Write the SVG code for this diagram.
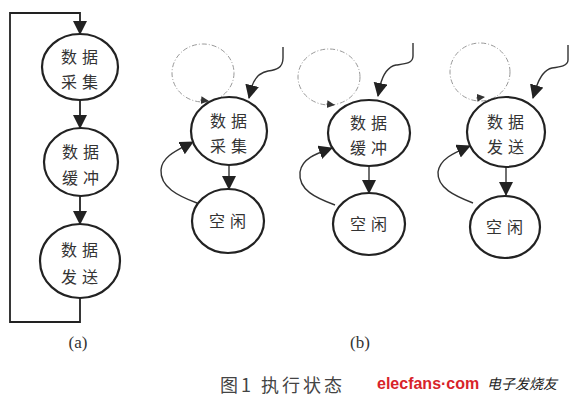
<svg xmlns="http://www.w3.org/2000/svg" width="581" height="401" viewBox="0 0 581 401">
<style>
.node{fill:#fff;stroke:#222;stroke-width:2.2}
.dash{fill:none;stroke:#999;stroke-width:1;stroke-dasharray:5 2 1 2}
.ln{fill:none;stroke:#222;stroke-width:1.8}
.thin{fill:none;stroke:#333;stroke-width:1.4}
.t{font-family:"Noto Sans CJK SC","Noto Sans",sans-serif;font-size:16px;fill:#333;letter-spacing:5px}
.lab{font-family:"Liberation Serif",serif;font-size:17px;fill:#333}
.cap{font-family:"Noto Sans CJK SC",sans-serif;font-size:18px;fill:#444;letter-spacing:3px}
</style>
<defs>
<marker id="ah" markerUnits="userSpaceOnUse" markerWidth="16" markerHeight="16" refX="13" refY="7" orient="auto">
<path d="M0,0 L14,7 L0,14 Z" fill="#222"/>
</marker>
<marker id="as" markerUnits="userSpaceOnUse" markerWidth="10" markerHeight="10" refX="8" refY="4" orient="auto">
<path d="M0,0 L8,4 L0,8 Z" fill="#333"/>
</marker>
</defs>
<rect width="581" height="401" fill="#fff"/>
<g id="connectors">
<path class="ln" d="M80,298 V322 H10 V13 H80 V34" marker-end="url(#ah)"/>
<path class="ln" d="M80,100 V128" marker-end="url(#ah)"/>
<path class="ln" d="M80,196 V224" marker-end="url(#ah)"/>
<path class="thin" d="M229,165 V189" marker-end="url(#ah)"/>
<path class="thin" d="M283,47 V58 C283,68 276,70 268,71 C258,73 254,80 252,86 L249,98" marker-end="url(#ah)"/>
<path class="thin" d="M197,203 C178,196 160,187 161,170 C162,156 178,150 193,142" marker-end="url(#ah)"/>
<path class="thin" d="M369,166 V193" marker-end="url(#ah)"/>
<path class="thin" d="M413,43 V56 C413,64 404,64 396,65 C386,67 382,78 380,86 L378,96" marker-end="url(#ah)"/>
<path class="thin" d="M335,205 C316,198 298,190 300,172 C302,158 318,153 332,148" marker-end="url(#ah)"/>
<path class="thin" d="M506,167 V195" marker-end="url(#ah)"/>
<path class="thin" d="M568,45 V60 C568,66 560,67 552,68 C543,70 538,82 536,88 L533,98" marker-end="url(#ah)"/>
<path class="thin" d="M473,203 C455,196 437,188 438,172 C440,158 456,152 470,146" marker-end="url(#ah)"/>
</g>
<g id="loops">
<ellipse class="dash" cx="203" cy="73" rx="31" ry="29"/>
<path d="M200,100 L209,101" class="dash" marker-end="url(#as)"/>
<ellipse class="dash" cx="329" cy="77" rx="31" ry="28"/>
<path d="M326,104 L335,105" class="dash" marker-end="url(#as)"/>
<ellipse class="dash" cx="480" cy="72" rx="30" ry="29"/>
<path d="M476,98 L485,97" class="dash" marker-end="url(#as)"/>
</g>
<g id="a1"><ellipse class="node" cx="80" cy="67" rx="38" ry="33"/><text class="t" x="61" y="63">数据</text><text class="t" x="61" y="88">采集</text></g>
<g id="a2"><ellipse class="node" cx="81" cy="162" rx="37" ry="34"/><text class="t" x="62" y="158">数据</text><text class="t" x="62" y="184">缓冲</text></g>
<g id="a3"><ellipse class="node" cx="80" cy="261" rx="40" ry="37"/><text class="t" x="61" y="256">数据</text><text class="t" x="61" y="283">发送</text></g>
<g id="b1"><ellipse class="node" cx="229" cy="131" rx="38" ry="34"/><text class="t" x="210" y="127">数据</text><text class="t" x="210" y="152">采集</text></g>
<g id="b1i"><ellipse class="node" cx="228" cy="221" rx="36" ry="32"/><text class="t" x="209" y="227">空闲</text></g>
<g id="b2"><ellipse class="node" cx="369" cy="133" rx="41" ry="33"/><text class="t" x="350" y="129">数据</text><text class="t" x="350" y="154">缓冲</text></g>
<g id="b2i"><ellipse class="node" cx="369" cy="224" rx="36" ry="31"/><text class="t" x="350" y="230">空闲</text></g>
<g id="b3"><ellipse class="node" cx="506" cy="132" rx="39" ry="35"/><text class="t" x="487" y="128">数据</text><text class="t" x="487" y="153">发送</text></g>
<g id="b3i"><ellipse class="node" cx="505" cy="227" rx="35" ry="31"/><text class="t" x="486" y="233">空闲</text></g>
<text class="lab" x="78" y="348" text-anchor="middle">(a)</text>
<text class="lab" x="360" y="348" text-anchor="middle">(b)</text>
<text class="cap" x="220" y="392">图1 执行状态</text>
<text x="377" y="389" font-family="Liberation Sans,sans-serif" font-size="16" font-weight="bold" fill="#d8232a">elecfans·com</text>
<text x="487" y="389" font-family="Noto Sans CJK SC,sans-serif" font-size="14" fill="#222" font-style="italic">电子发烧友</text>
</svg>
